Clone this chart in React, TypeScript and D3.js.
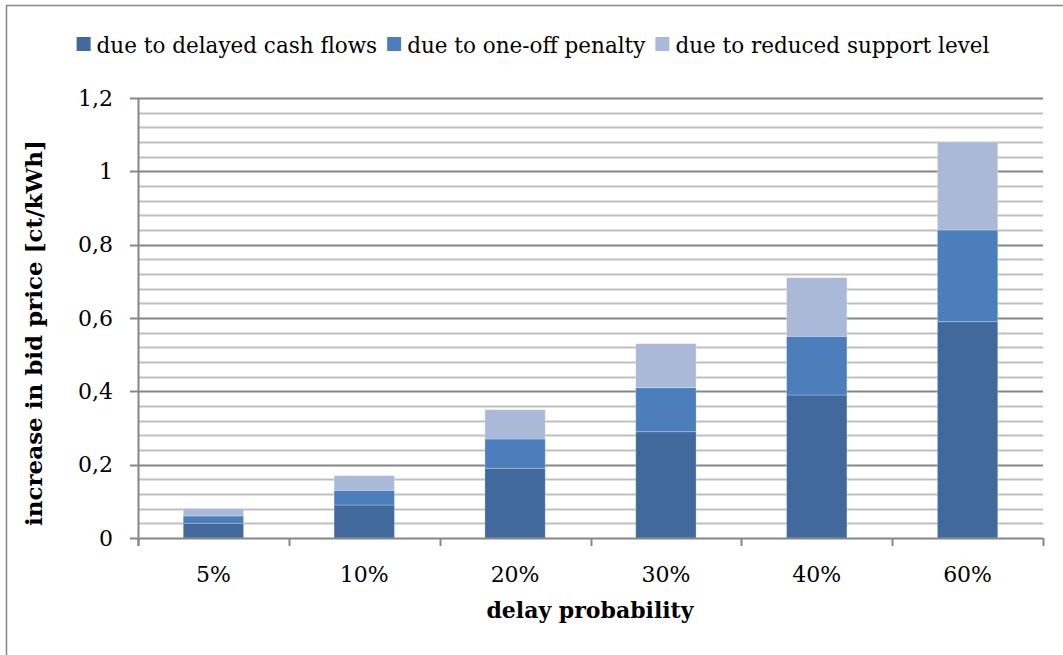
import React, { useEffect, useRef } from "react";
import * as d3 from "d3";

// Chart data
const categories = ["5%", "10%", "20%", "30%", "40%", "60%"];
const seriesNames = [
  "due to delayed cash flows",
  "due to one-off penalty",
  "due to reduced support level",
];
const delayedCashFlows = [0.04, 0.09, 0.19, 0.29, 0.39, 0.59];
const oneOffPenalty = [0.02, 0.04, 0.08, 0.12, 0.16, 0.25];
const reducedSupport = [0.02, 0.04, 0.08, 0.12, 0.16, 0.24];
const yTicks = [0, 0.2, 0.4, 0.6, 0.8, 1, 1.2];

const COLORS = ["#41699C", "#4B7EBA", "#AAB9D7"];
const FONT = "'DejaVu Serif', serif";

export default function App() {
  const svgRef = useRef<SVGSVGElement>(null);
  const width = 1063;
  const height = 655;

  useEffect(() => {
    if (!svgRef.current) return;
    const svg = d3.select(svgRef.current);
    svg.selectAll("*").remove();

    const left = 138;
    const right = 1043;
    const top = 98;
    const bottom = 538;

    // outer frame
    svg
      .append("rect")
      .attr("x", 6.5)
      .attr("y", 5.5)
      .attr("width", 1080)
      .attr("height", 680)
      .attr("fill", "#fff")
      .attr("stroke", "#868686")
      .attr("stroke-width", 1.5);

    const x = d3.scaleBand<string>().domain(categories).range([left, right]).paddingInner(0.6).paddingOuter(0.3);
    const y = d3.scaleLinear().domain([0, 1.2]).range([bottom, top]);

    // minor gridlines
    const minor = d3.range(0, 1.2001, 0.04).filter((v) => Math.abs(Math.round(v / 0.2) * 0.2 - v) > 1e-6);
    svg
      .append("g")
      .selectAll("line")
      .data(minor)
      .join("line")
      .attr("x1", left)
      .attr("x2", right)
      .attr("y1", (d) => Math.round(y(d)) + 0.5)
      .attr("y2", (d) => Math.round(y(d)) + 0.5)
      .attr("stroke", "#BFBFBF")
      .attr("stroke-width", 2);

    // major gridlines
    svg
      .append("g")
      .selectAll("line")
      .data(yTicks.slice(1))
      .join("line")
      .attr("x1", left)
      .attr("x2", right)
      .attr("y1", (d) => Math.round(y(d)) + 0.5)
      .attr("y2", (d) => Math.round(y(d)) + 0.5)
      .attr("stroke", "#868686")
      .attr("stroke-width", 2);

    // stacked bars
    const rows = categories.map((c, i) => ({
      cat: c,
      s0: delayedCashFlows[i],
      s1: oneOffPenalty[i],
      s2: reducedSupport[i],
    }));
    const stack = d3.stack<any>().keys(["s0", "s1", "s2"]);
    const layers = stack(rows);

    svg
      .append("g")
      .selectAll("g")
      .data(layers)
      .join("g")
      .attr("fill", (_, i) => COLORS[i])
      .selectAll("rect")
      .data((d) => d)
      .join("rect")
      .attr("x", (d) => x(d.data.cat)!)
      .attr("width", x.bandwidth())
      .attr("y", (d) => y(d[1]))
      .attr("height", (d) => y(d[0]) - y(d[1]))
      .attr("stroke", "#ffffff")
      .attr("stroke-opacity", 0.25)
      .attr("stroke-width", 1);

    // y axis
    const yAxis = svg.append("g");
    yAxis
      .append("line")
      .attr("x1", left + 0.5)
      .attr("x2", left + 0.5)
      .attr("y1", top)
      .attr("y2", bottom + 8)
      .attr("stroke", "#868686")
      .attr("stroke-width", 2);
    yAxis
      .selectAll(".ytick")
      .data(yTicks)
      .join("line")
      .attr("x1", left - 8)
      .attr("x2", left)
      .attr("y1", (d) => Math.round(y(d)) + 0.5)
      .attr("y2", (d) => Math.round(y(d)) + 0.5)
      .attr("stroke", "#868686")
      .attr("stroke-width", 2);
    yAxis
      .selectAll(".ylab")
      .data(yTicks)
      .join("text")
      .attr("x", 113)
      .attr("y", (d) => y(d))
      .attr("dy", "0.35em")
      .attr("text-anchor", "end")
      .attr("font-family", FONT)
      .attr("font-size", 22)
      .attr("fill", "#000")
      .text((d) => d3.format("~g")(d).replace(".", ","));

    // x axis
    svg
      .append("line")
      .attr("x1", left)
      .attr("x2", right)
      .attr("y1", bottom + 0.5)
      .attr("y2", bottom + 0.5)
      .attr("stroke", "#868686")
      .attr("stroke-width", 2);
    const xTickPos = categories.map((c) => x(c)! - (x.step() * x.paddingInner()) / 2);
    xTickPos.push(right);
    svg
      .append("g")
      .selectAll("line")
      .data(xTickPos)
      .join("line")
      .attr("x1", (d) => Math.round(d) + 0.5)
      .attr("x2", (d) => Math.round(d) + 0.5)
      .attr("y1", bottom)
      .attr("y2", bottom + 8)
      .attr("stroke", "#868686")
      .attr("stroke-width", 2);
    svg
      .append("g")
      .selectAll("text")
      .data(categories)
      .join("text")
      .attr("x", (d) => x(d)! + x.bandwidth() / 2)
      .attr("y", 582)
      .attr("text-anchor", "middle")
      .attr("font-family", FONT)
      .attr("font-size", 22)
      .text((d) => d);

    // axis titles
    svg
      .append("text")
      .attr("x", 590)
      .attr("y", 618)
      .attr("text-anchor", "middle")
      .attr("font-family", FONT)
      .attr("font-weight", "bold")
      .attr("font-size", 22)
      .text("delay probability");
    svg
      .append("text")
      .attr("transform", `translate(42, 333) rotate(-90)`)
      .attr("text-anchor", "middle")
      .attr("font-family", FONT)
      .attr("font-weight", "bold")
      .attr("font-size", 23)
      .text("increase in bid price [ct/kWh]");

    // legend, laid out by measured text widths and centred on the reference span
    const legend = svg.append("g");
    const items = seriesNames.map((name, i) => {
      const g = legend.append("g");
      g.append("rect")
        .attr("y", 37)
        .attr("width", 14)
        .attr("height", 14)
        .attr("fill", COLORS[i]);
      const t = g
        .append("text")
        .attr("x", 20)
        .attr("y", 53)
        .attr("font-family", FONT)
        .attr("font-size", 21.5)
        .text(name);
      const w = 20 + (t.node() as SVGTextElement).getComputedTextLength();
      return { g, w };
    });
    const gap = 10;
    const total = d3.sum(items, (d) => d.w) + gap * (items.length - 1);
    let lx = (68 + 998) / 2 - total / 2;
    items.forEach((it) => {
      it.g.attr("transform", `translate(${lx},0)`);
      lx += it.w + gap;
    });
  }, []);

  return (
    <svg
      ref={svgRef}
      width={width}
      height={height}
      style={{ position: "absolute", left: 0, top: 0, background: "#fff" }}
    />
  );
}
